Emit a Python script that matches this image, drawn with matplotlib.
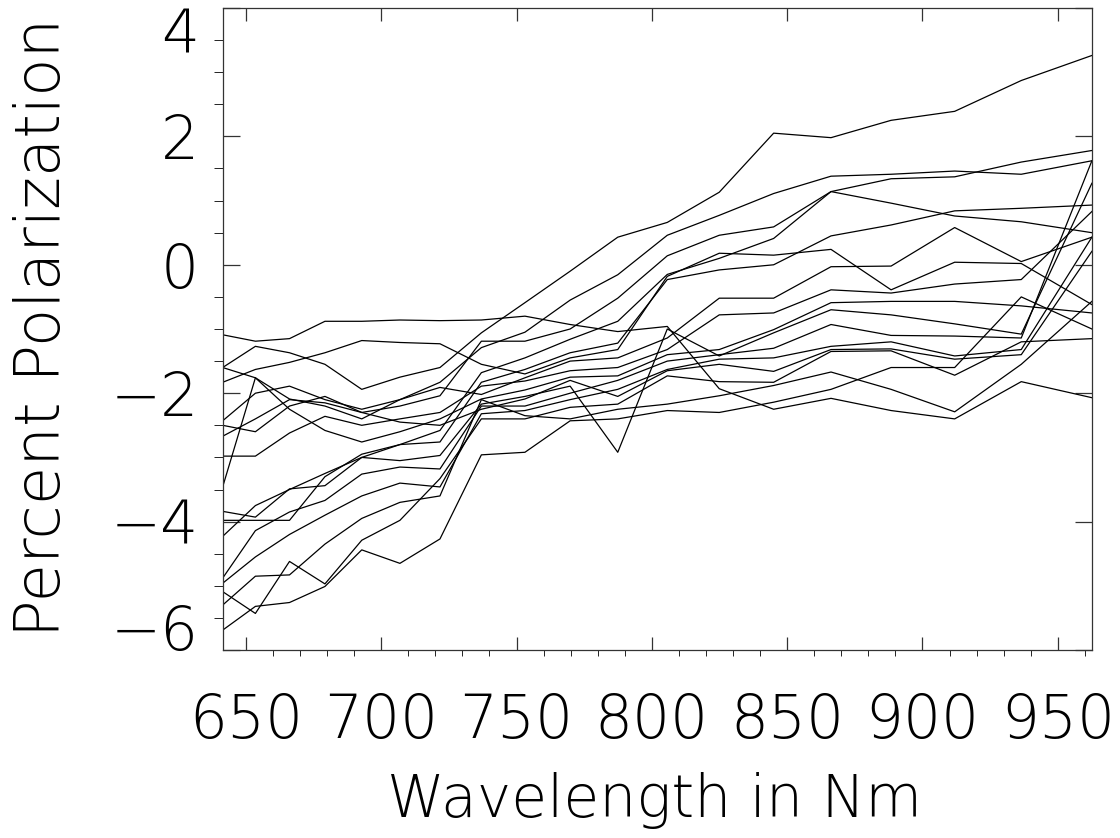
import matplotlib
matplotlib.use('Agg')
import matplotlib.pyplot as plt
from matplotlib.ticker import MultipleLocator

plt.rcParams['font.family'] = ['DejaVu Sans']
plt.rcParams['font.weight'] = 200

# wavelength grid (nm), equally spaced in wavenumber
wavelength = [641.4, 653.5, 666.1, 679.2, 692.8, 706.9, 721.7, 737.0, 753.1, 769.8,
              787.4, 805.7, 824.9, 845.0, 866.2, 888.4, 911.9, 936.5, 962.6]

# percent polarization, one list per object
pol_01 = [-1.60, -1.27, -1.37, -1.55, -1.94, -1.75, -1.60, -1.06, -0.59, -0.10, 0.43, 0.66, 1.13, 2.05, 1.98, 2.25, 2.39, 2.87, 3.26]
pol_02 = [-2.43, -2.00, -1.89, -2.10, -2.25, -2.10, -1.83, -1.29, -1.05, -0.55, -0.155, 0.46, 0.77, 1.11, 1.38, 1.41, 1.46, 1.41, 1.62]
pol_03 = [-2.67, -2.40, -2.10, -2.15, -2.30, -2.20, -2.04, -1.19, -1.19, -1.00, -0.52, 0.14, 0.46, 0.59, 1.14, 1.34, 1.37, 1.60, 1.78]
pol_04 = [-3.84, -3.93, -3.49, -3.44, -3.00, -2.80, -2.58, -1.68, -1.45, -1.16, -0.88, -0.15, 0.10, 0.41, 1.14, 0.96, 0.76, 0.67, 0.50]
pol_05 = [-3.98, -3.98, -3.98, -3.30, -2.95, -2.80, -2.76, -1.83, -1.63, -1.37, -1.22, -0.23, -0.08, 0.00, 0.45, 0.62, 0.84, 0.88, 0.93]
pol_06 = [-1.83, -1.63, -1.52, -1.37, -1.18, -1.21, -1.23, -1.55, -1.70, -1.45, -1.32, -0.18, 0.18, 0.15, 0.24, -0.39, 0.04, 0.02, -0.62]
pol_07 = [-1.60, -1.76, -2.09, -2.20, -2.40, -2.10, -1.91, -2.02, -1.76, -1.50, -1.45, -1.14, -0.52, -0.52, -0.03, -0.02, 0.58, 0.05, 0.43]
pol_08 = [-2.98, -2.98, -2.62, -2.36, -2.50, -2.40, -2.30, -1.89, -1.81, -1.65, -1.60, -1.32, -0.78, -0.75, -0.39, -0.44, -0.30, -0.23, 0.83]
pol_09 = [-3.46, -1.76, -2.25, -2.58, -2.76, -2.60, -2.40, -2.09, -1.95, -1.75, -1.73, -1.40, -1.32, -1.01, -0.59, -0.57, -0.57, -0.64, -0.75]
pol_10 = [-4.23, -3.75, -3.50, -3.25, -3.00, -3.05, -2.97, -2.17, -2.05, -1.89, -2.92, -1.00, -1.42, -1.06, -0.70, -0.78, -0.92, -1.08, 1.27]
pol_11 = [-4.88, -4.14, -3.85, -3.67, -3.26, -3.15, -3.18, -2.20, -2.20, -2.00, -1.80, -1.50, -1.40, -1.30, -0.93, -1.10, -1.11, -1.14, 1.62]
pol_12 = [-4.96, -4.55, -4.20, -3.90, -3.60, -3.40, -3.46, -2.32, -2.27, -2.10, -1.94, -1.63, -1.47, -1.45, -1.27, -1.20, -1.42, -1.32, 0.43]
pol_13 = [-2.50, -2.60, -2.20, -2.05, -2.30, -2.45, -2.50, -2.25, -2.09, -1.80, -2.05, -1.65, -1.55, -1.66, -1.32, -1.31, -1.47, -1.40, 0.21]
pol_14 = [-5.09, -5.43, -4.62, -4.97, -4.29, -3.98, -3.33, -2.40, -2.40, -2.22, -2.17, -1.73, -1.82, -1.83, -1.35, -1.34, -1.72, -1.20, -1.15]
pol_15 = [-1.09, -1.19, -1.15, -0.88, -0.88, -0.86, -0.87, -0.86, -0.80, -0.93, -1.04, -0.96, -1.93, -2.25, -2.08, -2.27, -2.40, -1.82, -2.07]
pol_16 = [-5.30, -4.85, -4.83, -4.35, -3.95, -3.70, -3.60, -2.10, -2.35, -2.40, -2.25, -2.17, -2.04, -1.88, -1.67, -1.94, -2.29, -1.55, -0.57]
pol_17 = [-5.69, -5.32, -5.26, -5.01, -4.44, -4.65, -4.27, -2.96, -2.92, -2.43, -2.40, -2.27, -2.30, -2.14, -1.94, -1.60, -1.60, -0.50, -1.00]

curves = [pol_01, pol_02, pol_03, pol_04, pol_05, pol_06, pol_07, pol_08, pol_09,
          pol_10, pol_11, pol_12, pol_13, pol_14, pol_15, pol_16, pol_17]

x_ticks = [650, 700, 750, 800, 850, 900, 950]
y_ticks = [-6, -4, -2, 0, 2, 4]
y_tick_labels = ['\u22126', '\u22124', '\u22122', '0', '2', '4']

fig = plt.figure(figsize=(11.2, 8.38), dpi=100)
ax = fig.add_axes([0.1988, 0.2243, 0.7761, 0.7662])

for pol in curves:
    ax.plot(wavelength, pol, color='black', lw=0.9)

ax.set_xlim(wavelength[0], wavelength[-1])
ax.set_ylim(-6, 4)

ax.set_xticks(x_ticks)
ax.xaxis.set_minor_locator(MultipleLocator(10))
ax.set_yticks(y_ticks)
ax.set_yticklabels(y_tick_labels)
ax.yaxis.set_minor_locator(MultipleLocator(0.5))

ax.tick_params(direction='in', top=True, right=True, width=0.9, color='#333333', labelsize=43)
ax.tick_params(axis='x', which='major', length=9.2, pad=30.5)
ax.tick_params(axis='x', which='minor', length=4.6)
ax.tick_params(axis='y', which='major', length=12.5, pad=17)
ax.tick_params(axis='y', which='minor', length=6.2)
for s in ax.spines.values():
    s.set_linewidth(0.9)
    s.set_color('#333333')

# keep end labels inside the axis span
ylabels = ax.get_yticklabels()
ylabels[0].set_va('baseline')
ylabels[-1].set_va('top')

fig.text(655 / 1120, 1 - 817 / 838, 'Wavelength in Nm', fontsize=42, ha='center', va='baseline')
fig.text(60 / 1120, 1 - 327 / 838, 'Percent Polarization', fontsize=45, rotation=90,
         rotation_mode='anchor', ha='center', va='baseline')

plt.savefig('out.png', dpi=100)
